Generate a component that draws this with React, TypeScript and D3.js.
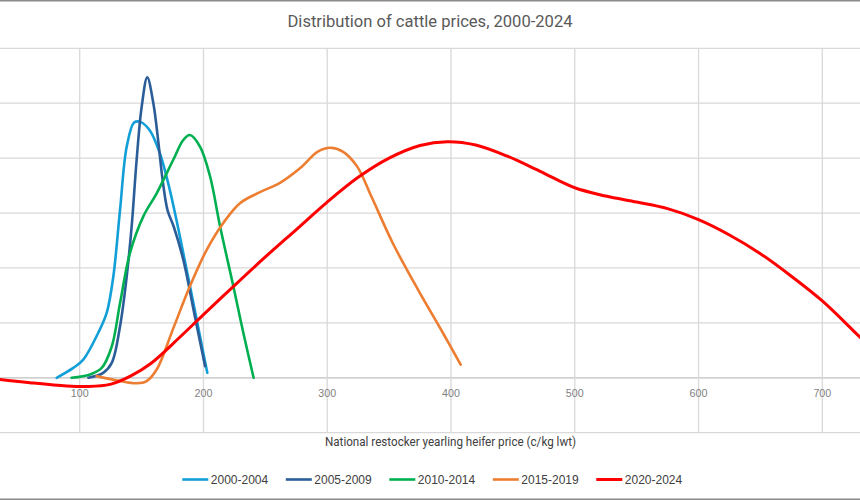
import React from "react";
import * as d3 from "d3";

type Pt = [number, number];

// x: national restocker yearling heifer price (c/kg lwt); y: relative density (gridline units)
const series2000: Pt[] = [
  [81.4, 0], [94.8, 0.18], [102.9, 0.33], [115, 0.82], [121.8, 1.18], [127.2, 1.85],
  [132.6, 3.06], [138, 4.21], [144, 4.65], [149, 4.66], [156.8, 4.5], [164.9, 4.08],
  [172.5, 3.45], [178.4, 2.85], [183.7, 2.27], [189.1, 1.67], [194.5, 1.06],
  [199.9, 0.45], [203.1, 0.09],
];
const series2005: Pt[] = [
  [107, 0], [119, 0.09], [125.9, 0.27], [132.6, 0.94], [138, 1.85], [142, 2.76],
  [146, 3.97], [150.1, 4.94], [154.6, 5.47], [159.5, 5.0], [163.5, 4.3], [167, 3.6],
  [171, 3.05], [176, 2.75], [183.7, 2.15], [192.5, 1.18], [201.3, 0.21],
];
const series2010: Pt[] = [
  [93.5, 0], [108.3, 0.06], [117.8, 0.18], [125.9, 0.57], [132.6, 1.36], [140.6, 2.27],
  [151.4, 2.94], [162.2, 3.36], [175.6, 3.97], [183.7, 4.33], [189.1, 4.42], [197.2, 4.21],
  [205.3, 3.67], [213.4, 2.76], [224.1, 1.67], [232.2, 0.82], [240.5, 0],
];
const series2015: Pt[] = [
  [113.7, 0.03], [132.6, -0.06], [146, -0.1], [154.1, -0.06], [162.2, 0.15], [175.6, 0.9],
  [189.1, 1.67], [202.6, 2.33], [216, 2.82], [229.5, 3.18], [245.7, 3.38], [261.8, 3.55],
  [278.2, 3.82], [292.4, 4.12], [302.5, 4.19], [312.6, 4.12], [324.1, 3.85], [335.7, 3.3],
  [353, 2.45], [373.2, 1.61], [393.4, 0.82], [407.8, 0.24],
];
const series2020: Pt[] = [
  [25, 0.0], [35.6, -0.03], [59.8, -0.09], [89.5, -0.15], [105.7, -0.16], [124.5, -0.12],
  [141, 0.03], [158, 0.27], [180, 0.72], [200, 1.15], [225, 1.68], [250, 2.2], [275, 2.7],
  [300, 3.2], [325, 3.65], [350, 4.0], [375, 4.23], [397, 4.3], [420, 4.24], [445, 4.04],
  [472, 3.76], [500, 3.46], [525, 3.31], [550, 3.2], [575, 3.08], [600, 2.88], [625, 2.6],
  [650, 2.26], [675, 1.85], [700, 1.4], [725, 0.86], [750, 0.3],
];

const seriesNames = ["2000-2004", "2005-2009", "2010-2014", "2015-2019", "2020-2024"];
const seriesData = [series2000, series2005, series2010, series2015, series2020];
const seriesColors = ["#129FD8", "#2B5E99", "#00B050", "#ED7D31", "#FF0000"];

const xTicks = [100, 200, 300, 400, 500, 600, 700];
const xGrid = [0, 100, 200, 300, 400, 500, 600, 700, 800];
const yGrid = [-1, 0, 1, 2, 3, 4, 5, 6];

const titleText = "Distribution of cattle prices, 2000-2024";
const xTitleText = "National restocker yearling heifer price (c/kg lwt)";

export default function App() {
  const W = 860;
  const H = 500;
  const x = d3.scaleLinear().domain([100, 700]).range([79.7, 822.3]);
  const y = d3.scaleLinear().domain([-1, 6]).range([432.7, 48.3]);
  const line = d3
    .line<Pt>()
    .x((d) => x(d[0]))
    .y((d) => y(d[1]))
    .curve(d3.curveCatmullRom.alpha(0.5));

  return (
    <svg
      width={W}
      height={H}
      style={{ position: "absolute", left: 0, top: 0, background: "#fff" }}
    >
      <defs>
        <clipPath id="plotclip">
          <rect x={0} y={0} width={W} height={H} />
        </clipPath>
      </defs>
      <rect x={0} y={0} width={W} height={H} fill="#fff" />
      {/* border lines */}
      <line x1={0} x2={W} y1={0.75} y2={0.75} stroke="#8a8a8a" strokeWidth={1.5} />
      <line x1={0} x2={W} y1={499.25} y2={499.25} stroke="#8a8a8a" strokeWidth={1.5} />

      {/* grid */}
      {yGrid.map((v) => (
        <line
          key={"h" + v}
          x1={0}
          x2={W}
          y1={y(v)}
          y2={y(v)}
          stroke={v === 0 ? "#bfbfbf" : "#d9d9d9"}
          strokeWidth={1.3}
        />
      ))}
      {xGrid.map((v) => (
        <line
          key={"v" + v}
          x1={x(v)}
          x2={x(v)}
          y1={y(6)}
          y2={y(-1)}
          stroke="#d9d9d9"
          strokeWidth={1.3}
        />
      ))}

      {/* tick labels */}
      {xTicks.map((v) => (
        <text
          key={"t" + v}
          x={x(v)}
          y={397}
          textAnchor="middle"
          fontFamily="'Liberation Sans', Arial, sans-serif"
          fontSize={10.7}
          fill="#7f7f7f"
        >
          {v}
        </text>
      ))}

      {/* series */}
      <g clipPath="url(#plotclip)">
        {seriesData.map((s, i) => (
          <path
            key={seriesNames[i]}
            d={line(s) || ""}
            fill="none"
            stroke={seriesColors[i]}
            strokeWidth={i === 4 ? 3 : 2.6}
            strokeLinecap="round"
            strokeLinejoin="round"
          />
        ))}
      </g>

      {/* title */}
      <text
        x={430}
        y={26.5}
        textAnchor="middle"
        fontFamily="'Liberation Sans Narrow', 'Roboto', sans-serif"
        fontSize={16}
        fill="#595959"
        textLength={285}
        lengthAdjust="spacingAndGlyphs"
      >
        {titleText}
      </text>

      {/* x axis title */}
      <text
        x={450.5}
        y={446}
        textAnchor="middle"
        fontFamily="'Liberation Sans Narrow', 'Roboto', sans-serif"
        fontSize={13}
        fill="#404040"
        textLength={251}
        lengthAdjust="spacingAndGlyphs"
      >
        {xTitleText}
      </text>

      {/* legend */}
      {seriesNames.map((n, i) => {
        const lx = 182.3 + i * 103.5;
        return (
          <g key={"lg" + n}>
            <line
              x1={lx}
              x2={lx + 26}
              y1={479.5}
              y2={479.5}
              stroke={seriesColors[i]}
              strokeWidth={i === 4 ? 3 : 2.6}
            />
            <text
              x={lx + 28.5}
              y={483.8}
              fontFamily="'Liberation Sans', Arial, sans-serif"
              fontSize={12}
              fill="#404040"
            >
              {n}
            </text>
          </g>
        );
      })}
    </svg>
  );
}
